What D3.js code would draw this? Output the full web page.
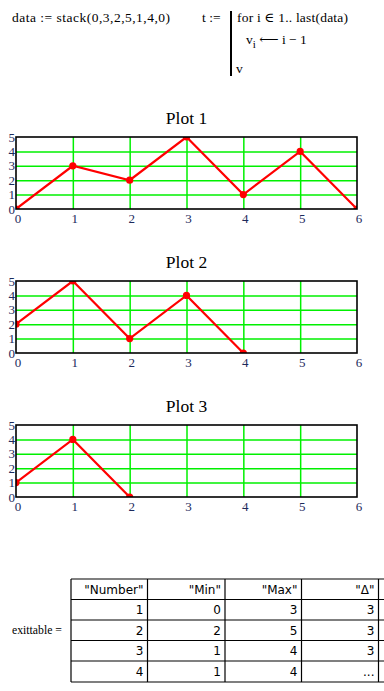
<!DOCTYPE html>
<html>
<head>
<meta charset="utf-8">
<script src="https://cdn.jsdelivr.net/npm/d3@7"></script>
<style>
  html, body { margin: 0; padding: 0; background: #fff; }
  svg { display: block; }
  .serif { font-family: "Liberation Serif", "DejaVu Serif", serif; }
  .cell { font-family: "DejaVu Sans", Verdana, sans-serif; font-size: 12px; }
</style>
</head>
<body>
<div id="chart"></div>
<script>
const data = [0, 3, 2, 5, 1, 4, 0];
const series1 = data;
const series2 = [2, 5, 1, 4, 0];
const series3 = [1, 4, 0];
const plotTitles = ['Plot 1', 'Plot 2', 'Plot 3'];
const xTicks = [0, 1, 2, 3, 4, 5, 6];
const yTicks = [0, 1, 2, 3, 4, 5];

const tableHeader = ['"Number"', '"Min"', '"Max"', '"Δ"'];
const numberCol = [1, 2, 3, 4];
const minCol = [0, 2, 1, 1];
const maxCol = [3, 5, 4, 4];
const deltaCol = ['3', '3', '3', '...'];

const W = 384, H = 691;
const svg = d3.select('#chart').append('svg')
  .attr('width', W)
  .attr('height', H);

// ---- program text at the top
const header = svg.append('g').attr('class', 'serif').style('font-size', '13.5px').attr('fill', '#000');
header.append('text').attr('x', 12).attr('y', 22)
  .attr('textLength', 158).attr('lengthAdjust', 'spacing')
  .text('data := stack(0,3,2,5,1,4,0)');
header.append('text').attr('x', 202).attr('y', 22).text('t :=');
header.append('line')
  .attr('x1', 231).attr('x2', 231).attr('y1', 11).attr('y2', 76)
  .attr('stroke', '#000').attr('stroke-width', 2);
header.append('text').attr('x', 237).attr('y', 22)
  .attr('textLength', 111).attr('lengthAdjust', 'spacing')
  .text('for  i \u2208 1.. last(data)');
const vi = header.append('text').attr('x', 246).attr('y', 44);
vi.append('tspan').text('v');
vi.append('tspan').attr('dy', 4).style('font-size', '11px').text('i');
vi.append('tspan').attr('dy', -4).text(' \u27F5 i \u2212 1');
header.append('text').attr('x', 236).attr('y', 73).text('v');

// ---- the three plots
const series = [series1, series2, series3];
const plotTops = [137, 281, 425];
const plotH = 72;
const left = 16, right = 357;

const x = d3.scaleLinear().domain([0, 6]).range([left, right]);
const innerX = xTicks.slice(1, -1);
const innerY = yTicks.slice(1, -1);

series.forEach((vals, k) => {
  const y0 = plotTops[k];
  const y = d3.scaleLinear().domain([0, 5]).range([y0 + plotH, y0]);
  const g = svg.append('g').attr('class', 'plot');

  g.append('text')
    .attr('class', 'serif')
    .attr('x', (left + right) / 2)
    .attr('y', y0 - 13)
    .attr('text-anchor', 'middle')
    .style('font-size', '17.5px')
    .text(plotTitles[k]);

  // green grid (the outer ones are covered by the frame)
  g.append('g')
    .attr('transform', `translate(0,${y0 + plotH})`)
    .call(d3.axisBottom(x).tickValues(innerX).tickSize(-plotH).tickFormat(''))
    .call((a) => a.select('.domain').remove())
    .call((a) => a.selectAll('line').attr('stroke', '#00f000').attr('stroke-width', 1.5));
  g.append('g')
    .attr('transform', `translate(${left},0)`)
    .call(d3.axisLeft(y).tickValues(innerY).tickSize(-(right - left)).tickFormat(''))
    .call((a) => a.select('.domain').remove())
    .call((a) => a.selectAll('line').attr('stroke', '#00f000').attr('stroke-width', 1.5));

  // tick labels
  g.selectAll('.xl').data(xTicks).join('text')
    .attr('class', 'serif')
    .attr('x', (d) => x(d) + 2)
    .attr('y', y0 + plotH + 14)
    .attr('text-anchor', 'middle')
    .attr('fill', '#1c2a5c')
    .style('font-size', '13px')
    .text((d) => d);
  g.selectAll('.yl').data(yTicks).join('text')
    .attr('class', 'serif')
    .attr('x', left - 1)
    .attr('y', (d) => y(d) + 4.5)
    .attr('text-anchor', 'end')
    .attr('fill', '#1c2a5c')
    .style('font-size', '13px')
    .text((d) => d);

  const clipId = `clip${k}`;
  g.append('clipPath').attr('id', clipId)
    .append('rect')
    .attr('x', left).attr('y', y0)
    .attr('width', right - left).attr('height', plotH);

  const pts = vals.map((v, i) => [i, v]);
  const inner = g.append('g').attr('clip-path', `url(#${clipId})`);
  inner.append('path')
    .datum(pts)
    .attr('fill', 'none')
    .attr('stroke', '#ff0000')
    .attr('stroke-width', 2.2)
    .attr('d', d3.line().x((d) => x(d[0])).y((d) => y(d[1])));
  inner.selectAll('circle').data(pts).join('circle')
    .attr('cx', (d) => x(d[0]))
    .attr('cy', (d) => y(d[1]))
    .attr('r', 3.6)
    .attr('fill', '#ff0000');

  g.append('rect')
    .attr('x', left).attr('y', y0)
    .attr('width', right - left).attr('height', plotH)
    .attr('fill', 'none')
    .attr('stroke', '#000')
    .attr('stroke-width', 1.6);
});

// ---- exit table
const colX = [71, 147.5, 225, 301.5, 378.5];
const rowY = [579, 599.5, 620, 640.5, 661, 682];
const tbl = svg.append('g');

svg.append('text')
  .attr('class', 'serif')
  .attr('x', 12).attr('y', 634)
  .attr('textLength', 50).attr('lengthAdjust', 'spacingAndGlyphs')
  .style('font-size', '13px')
  .text('exittable =');

rowY.forEach((ry) => {
  tbl.append('line')
    .attr('x1', colX[0]).attr('x2', W)
    .attr('y1', ry).attr('y2', ry)
    .attr('stroke', '#000').attr('stroke-width', 1.2);
});
colX.forEach((cx) => {
  tbl.append('line')
    .attr('x1', cx).attr('x2', cx)
    .attr('y1', rowY[0]).attr('y2', rowY[rowY.length - 1])
    .attr('stroke', '#000').attr('stroke-width', 1.2);
});

const rows = [tableHeader].concat(numberCol.map((n, i) => [n, minCol[i], maxCol[i], deltaCol[i]]));
rows.forEach((r, ri) => {
  r.forEach((v, ci) => {
    tbl.append('text')
      .attr('class', 'cell')
      .attr('x', colX[ci + 1] - 4)
      .attr('y', rowY[ri] + 14.5)
      .attr('text-anchor', 'end')
      .text(v);
  });
});
</script>
</body>
</html>
